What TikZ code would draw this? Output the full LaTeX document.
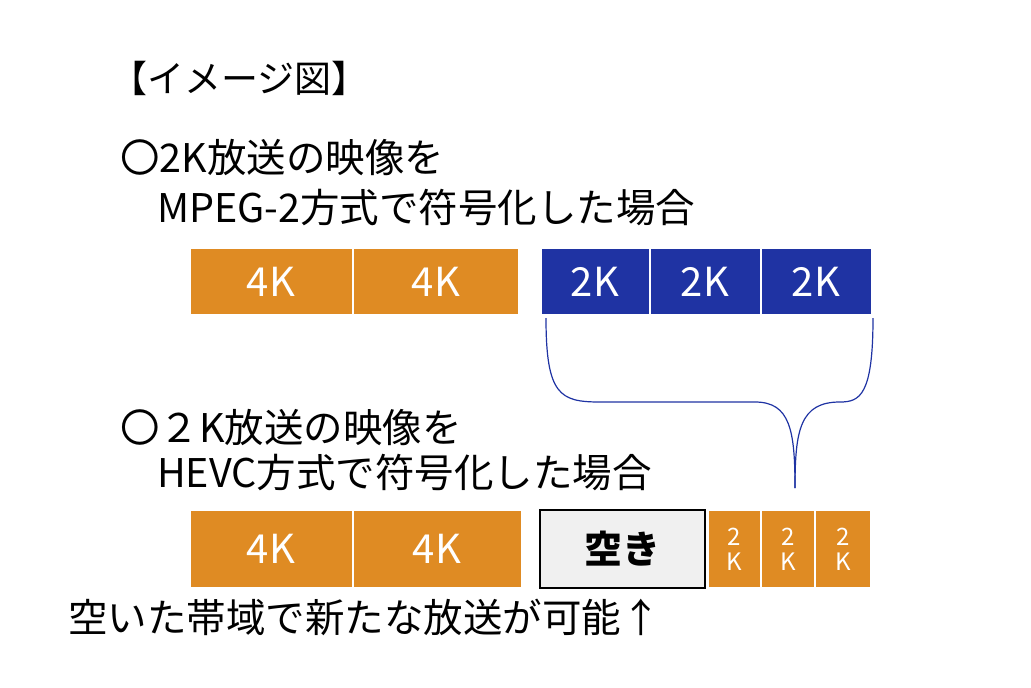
\documentclass[tikz,border=0pt]{standalone}
\usepackage{fontspec}
\setmainfont{Noto Sans CJK JP}
\begin{document}
\begin{tikzpicture}[x=1pt,y=-1pt,
  orb/.style={fill=orng,draw=white,line width=1.5pt},
  blb/.style={fill=blu,draw=white,line width=1.5pt},
  bt/.style={text=white,font=\fontsize{40}{42}\selectfont},
  sm/.style={text=white,font=\fontsize{24}{25}\selectfont,align=center},
  lbl/.style={anchor=west,inner sep=0pt,font=\fontsize{39.5}{42}\selectfont}]
\definecolor{orng}{HTML}{DF8B23}
\definecolor{blu}{HTML}{1F33A3}
\useasboundingbox (0,0) rectangle (1031,688);
\node[lbl,font=\fontsize{37}{40}\selectfont] (t0) at (110,78) {【イメージ図】};
\node[lbl] (t1) at (120,158) {〇2K放送の映像を};
\node[lbl] (t2) at (157,208) {MPEG-2方式で符号化した場合};
\node[lbl] (t3) at (120,428) {〇２K放送の映像を};
\node[lbl] (t4) at (157,473) {HEVC方式で符号化した場合};
\node[lbl] (t5) at (68,617) {空いた帯域で新たな放送が可能↑};
% top row
\path[orb] (190,248) rectangle (353,315); \node[bt] (a1) at (271,282) {4K};
\path[orb] (353,248) rectangle (519,315); \node[bt] (a2) at (436,282) {4K};
\path[blb] (541,248) rectangle (650,315); \node[bt] (b1) at (595,282) {2K};
\path[blb] (650,248) rectangle (761,315); \node[bt] (b2) at (705,282) {2K};
\path[blb] (761,248) rectangle (872,315); \node[bt] (b3) at (816,282) {2K};
% brace
\coordinate (bl) at (546,318);
\coordinate (br) at (873,318);
\coordinate (tip) at (795,488);
\draw[blu,line width=1.2pt] (bl) .. controls (546,395) and (560,402) .. (600,402) -- (755,402)
  .. controls (790,402) and (795,430) .. (tip);
\draw[blu,line width=1.2pt] (br) .. controls (873,395) and (860,402) .. (840,402)
  .. controls (800,402) and (795,430) .. (tip);
% bottom row
\path[orb] (190,510) rectangle (353,588); \node[bt] (c1) at (271,549) {4K};
\path[orb] (353,510) rectangle (522,588); \node[bt] (c2) at (437,549) {4K};
\node[draw=black,line width=2pt,fill=black!6,minimum width=165pt,minimum height=78pt,font=\bfseries\fontsize{38}{40}\selectfont] (e) at (622,549) {空き};
\path[orb] (708,510) rectangle (761,588); \node[sm] (d1) at (734,549) {2\\K};
\path[orb] (761,510) rectangle (815,588); \node[sm] (d2) at (788,549) {2\\K};
\path[orb] (815,510) rectangle (871,588); \node[sm] (d3) at (843,549) {2\\K};
\end{tikzpicture}
\end{document}
